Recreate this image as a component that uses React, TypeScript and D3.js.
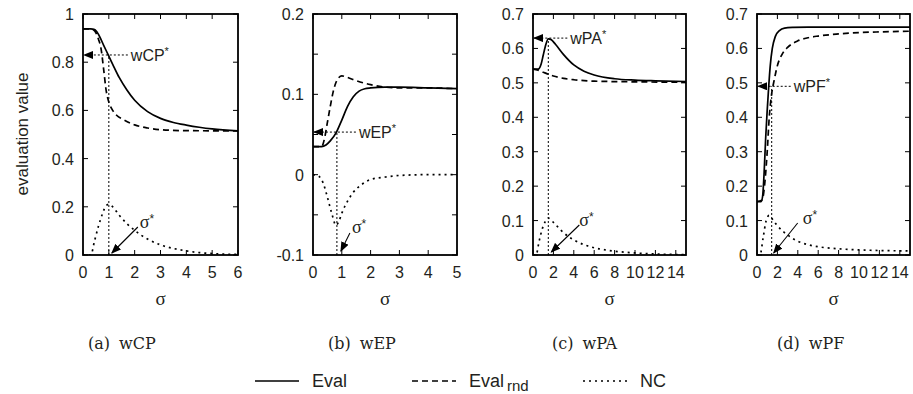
import React from 'react';
import * as d3 from 'd3';

type Pt = [number, number];

// ---- data: [sigma, value] ----
const cpEval: Pt[] = [[0, 0.938], [0.3, 0.938], [0.45, 0.935], [0.6, 0.915], [0.8, 0.87], [1.0, 0.825], [1.2, 0.78], [1.4, 0.737], [1.7, 0.685], [2.0, 0.642], [2.5, 0.595], [3.0, 0.567], [3.5, 0.55], [4, 0.539], [4.5, 0.53], [5, 0.523], [6, 0.515]];
const cpEvalRnd: Pt[] = [[0, 0.938], [0.3, 0.938], [0.45, 0.93], [0.6, 0.895], [0.7, 0.855], [0.8, 0.77], [0.9, 0.68], [1.0, 0.635], [1.15, 0.6], [1.3, 0.58], [1.6, 0.56], [2.0, 0.54], [2.5, 0.527], [3, 0.52], [4, 0.516], [6, 0.515]];
const cpNC: Pt[] = [[0, 0], [0.3, 0], [0.45, 0.06], [0.6, 0.12], [0.75, 0.17], [0.9, 0.205], [1.0, 0.21], [1.15, 0.2], [1.4, 0.165], [1.7, 0.13], [2, 0.102], [2.5, 0.066], [3, 0.042], [3.5, 0.027], [4, 0.017], [4.5, 0.01], [5, 0.006], [6, 0.002]];

const epEval: Pt[] = [[0, 0.035], [0.3, 0.035], [0.45, 0.037], [0.6, 0.042], [0.8, 0.052], [1.0, 0.068], [1.2, 0.085], [1.4, 0.097], [1.6, 0.104], [1.8, 0.107], [2.0, 0.108], [2.5, 0.109], [3, 0.109], [4, 0.108], [5, 0.107]];
const epEvalRnd: Pt[] = [[0, 0.035], [0.3, 0.035], [0.4, 0.045], [0.5, 0.065], [0.6, 0.085], [0.7, 0.103], [0.8, 0.115], [0.9, 0.121], [1.0, 0.123], [1.2, 0.121], [1.5, 0.117], [2, 0.112], [2.5, 0.109], [3, 0.108], [4, 0.108], [5, 0.107]];
const epNC: Pt[] = [[0, 0], [0.2, -0.002], [0.35, -0.01], [0.5, -0.028], [0.65, -0.048], [0.8, -0.063], [0.9, -0.058], [1.0, -0.048], [1.2, -0.033], [1.4, -0.022], [1.7, -0.012], [2, -0.006], [2.5, -0.003], [3, -0.001], [4, 0], [5, 0]];

const paEval: Pt[] = [[0, 0.54], [0.5, 0.54], [0.8, 0.555], [1.0, 0.58], [1.2, 0.605], [1.5, 0.628], [1.8, 0.625], [2.2, 0.612], [3, 0.582], [4, 0.552], [5, 0.534], [6, 0.523], [8, 0.512], [10, 0.508], [12, 0.506], [15, 0.504]];
const paEvalRnd: Pt[] = [[0, 0.54], [0.5, 0.537], [1, 0.531], [1.5, 0.525], [2, 0.52], [3, 0.513], [4, 0.509], [6, 0.505], [10, 0.503], [15, 0.502]];
const paNC: Pt[] = [[0, 0], [0.3, 0], [0.6, 0.04], [0.9, 0.075], [1.2, 0.097], [1.5, 0.107], [2, 0.095], [2.7, 0.073], [3.5, 0.053], [4, 0.044], [5, 0.03], [6, 0.021], [7.5, 0.013], [10, 0.006], [12, 0.003], [15, 0.001]];

const pfEval: Pt[] = [[0, 0.155], [0.4, 0.155], [0.55, 0.17], [0.7, 0.24], [0.85, 0.34], [1.0, 0.42], [1.15, 0.49], [1.3, 0.55], [1.5, 0.6], [1.8, 0.635], [2.2, 0.652], [2.7, 0.659], [3.5, 0.661], [5, 0.662], [15, 0.662]];
const pfEvalRnd: Pt[] = [[0, 0.155], [0.5, 0.16], [0.8, 0.22], [1.0, 0.3], [1.2, 0.4], [1.4, 0.46], [1.7, 0.51], [2, 0.55], [2.5, 0.585], [3, 0.603], [4, 0.622], [5, 0.631], [6, 0.636], [8, 0.642], [10, 0.646], [12, 0.648], [15, 0.65]];
const pfNC: Pt[] = [[0, 0], [0.3, 0], [0.6, 0.05], [0.9, 0.1], [1.2, 0.115], [1.6, 0.1], [2, 0.085], [3, 0.058], [4, 0.04], [5, 0.03], [6, 0.024], [8, 0.018], [10, 0.015], [12, 0.013], [15, 0.012]];

// optimum (sigma*, w*) per panel
const optima: Pt[] = [[1.0, 0.83], [0.83, 0.053], [1.5, 0.63], [1.44, 0.49]];
const metricNames = ['wCP', 'wEP', 'wPA', 'wPF'];
const captionTags = ['(a)', '(b)', '(c)', '(d)'];
const legendNames = ['Eval', 'Eval', 'NC'];

const SANS = '"Liberation Sans", Arial, Helvetica, sans-serif';
const SERIF = '"Liberation Serif", "Times New Roman", serif';
const CAPSERIF = '"DejaVu Serif", serif';

interface PanelCfg {
  left: number;
  right: number;
  xDomain: [number, number];
  yDomain: [number, number];
  xTicks: number[];
  yTicks: number[];
  yLabels: number[];
  series: Pt[][];
  sigLabel: [number, number];
  sigArrow: [number, number, number, number];
  captionX: number;
}

const panels: PanelCfg[] = [
  { left: 83, right: 238, xDomain: [0, 6], yDomain: [0, 1], xTicks: d3.range(0, 7, 1), yTicks: d3.range(0, 1.01, 0.2), yLabels: d3.range(0, 1.01, 0.2), series: [cpEval, cpEvalRnd, cpNC], sigLabel: [31, -32], sigArrow: [29, -28, 3, -2], captionX: 88 },
  { left: 313, right: 457, xDomain: [0, 5], yDomain: [-0.1, 0.2], xTicks: d3.range(0, 6, 1), yTicks: d3.range(-0.1, 0.201, 0.05), yLabels: [-0.1, 0, 0.1, 0.2], series: [epEval, epEvalRnd, epNC], sigLabel: [15, -27], sigArrow: [13, -22, 4, -4], captionX: 328 },
  { left: 533, right: 686, xDomain: [0, 15], yDomain: [0, 0.7], xTicks: d3.range(0, 15, 2), yTicks: d3.range(0, 0.701, 0.1), yLabels: d3.range(0, 0.701, 0.1), series: [paEval, paEvalRnd, paNC], sigLabel: [31, -34], sigArrow: [31, -30, 3, -3], captionX: 552 },
  { left: 757, right: 910, xDomain: [0, 15], yDomain: [0, 0.7], xTicks: d3.range(0, 15, 2), yTicks: d3.range(0, 0.701, 0.1), yLabels: d3.range(0, 0.701, 0.1), series: [pfEval, pfEvalRnd, pfNC], sigLabel: [31, -36], sigArrow: [26, -32, 2, -2], captionX: 777 },
];

const TOP = 14;
const BOTTOM = 255;
const dashes = [null, '6,4', '2,4'];

function fmt(v: number) {
  const r = Math.round(v * 100) / 100;
  return r === 0 ? '0' : String(r);
}

function Panel({ cfg, idx }: { cfg: PanelCfg; idx: number }) {
  const x = d3.scaleLinear().domain(cfg.xDomain).range([cfg.left, cfg.right]);
  const y = d3.scaleLinear().domain(cfg.yDomain).range([BOTTOM, TOP]);
  const line = d3.line<Pt>().x(d => x(d[0])).y(d => y(d[1])).curve(d3.curveMonotoneX);
  const [s, w] = optima[idx];
  const sx = x(s);
  const wy = y(w);
  const lblX = sx + 22;
  const tick = 5;
  return (
    <g>
      <defs>
        <clipPath id={`clip${idx}`}>
          <rect x={cfg.left} y={TOP} width={cfg.right - cfg.left} height={BOTTOM - TOP} />
        </clipPath>
      </defs>
      {/* ticks, mirrored on all sides */}
      {cfg.xTicks.map(t => (
        <g key={'x' + t} stroke="#000" strokeWidth={1}>
          <line x1={x(t)} x2={x(t)} y1={BOTTOM} y2={BOTTOM - tick} />
          <line x1={x(t)} x2={x(t)} y1={TOP} y2={TOP + tick} />
        </g>
      ))}
      {cfg.yTicks.map(t => (
        <g key={'y' + t} stroke="#000" strokeWidth={1}>
          <line x1={cfg.left} x2={cfg.left + tick} y1={y(t)} y2={y(t)} />
          <line x1={cfg.right} x2={cfg.right - tick} y1={y(t)} y2={y(t)} />
        </g>
      ))}
      {cfg.xTicks.map(t => (
        <text key={'xl' + t} x={x(t)} y={278} textAnchor="middle" fontSize={16} fontFamily={SANS} fill="#231f20">{t}</text>
      ))}
      {cfg.yLabels.map(t => (
        <text key={'yl' + t} x={cfg.left - 9} y={y(t) + 6} textAnchor="end" fontSize={16} fontFamily={SANS} fill="#231f20">{fmt(t)}</text>
      ))}
      <text x={(cfg.left + cfg.right) / 2} y={305} textAnchor="middle" fontSize={19} fontFamily={SERIF} fill="#231f20">σ</text>

      {/* curves */}
      <g clipPath={`url(#clip${idx})`}>
        {cfg.series.map((ser, i) => (
          <path key={i} d={line(ser) || ''} fill="none" stroke="#000" strokeWidth={1.7}
            strokeDasharray={dashes[i] || undefined} />
        ))}
      </g>

      {/* optimum annotations */}
      <line x1={sx} x2={sx} y1={BOTTOM} y2={wy} stroke="#000" strokeWidth={1} strokeDasharray="2,2" />
      <line x1={lblX - 3} x2={cfg.left + 1} y1={wy} y2={wy} stroke="#000" strokeWidth={1} strokeDasharray="2,2" markerEnd="url(#head)" />
      <text x={lblX} y={wy + 6} fontSize={16} fontFamily={SANS} fill="#231f20">
        {metricNames[idx]}<tspan dy={-6} fontSize={11}>*</tspan>
      </text>
      <line x1={sx + cfg.sigArrow[0]} y1={BOTTOM + cfg.sigArrow[1]} x2={sx + cfg.sigArrow[2]} y2={BOTTOM + cfg.sigArrow[3]}
        stroke="#000" strokeWidth={1.1} markerEnd="url(#head)" />
      <text x={sx + cfg.sigLabel[0]} y={BOTTOM + cfg.sigLabel[1] + 5} fontSize={18} fontFamily={SERIF} fill="#231f20">
        σ<tspan dy={-5} fontSize={12} fontFamily={SANS}>*</tspan>
      </text>

      <rect x={cfg.left} y={TOP} width={cfg.right - cfg.left} height={BOTTOM - TOP} fill="none" stroke="#000" strokeWidth={1.8} />

      {/* caption */}
      <text x={cfg.captionX} y={349} fontSize={16} fontFamily={CAPSERIF} fill="#231f20">
        {captionTags[idx]}<tspan dx={9}>{metricNames[idx]}</tspan>
      </text>
    </g>
  );
}

export default function App() {
  const legendX = [255, 412, 583];
  const legendY = 381;
  return (
    <svg width={913} height={394} style={{ position: 'absolute', left: 0, top: 0, background: '#fff' }}>
      <defs>
        <marker id="head" markerUnits="userSpaceOnUse" markerWidth={10} markerHeight={8} refX={9} refY={4} orient="auto">
          <path d="M0,0 L10,4 L0,8 Z" fill="#000" />
        </marker>
      </defs>
      <rect width={913} height={394} fill="#fff" />
      <text transform="translate(28,134) rotate(-90)" textAnchor="middle" fontSize={17} fontFamily={SANS} fill="#231f20">evaluation value</text>
      {panels.map((p, i) => <Panel key={i} cfg={p} idx={i} />)}

      {/* legend */}
      {legendNames.map((n, i) => (
        <g key={i}>
          <line x1={legendX[i]} x2={legendX[i] + 44} y1={legendY} y2={legendY} stroke="#000" strokeWidth={1.7}
            strokeDasharray={dashes[i] || undefined} />
          <text x={legendX[i] + 57} y={legendY + 6} fontSize={18} fontFamily={SANS} fill="#231f20">
            {n}{i === 1 ? <tspan dx={3} dy={4} fontSize={15}>rnd</tspan> : null}
          </text>
        </g>
      ))}
    </svg>
  );
}
